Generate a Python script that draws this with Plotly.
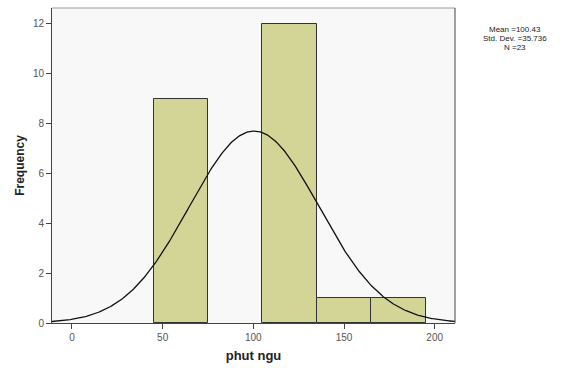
import numpy as np
import plotly.graph_objects as go

bin_starts = [45, 75, 105, 135, 165]
bin_width = 30
counts = [9, 0, 12, 1, 1]
mean_val = 100.43
std_dev = 35.736
n_obs = 23
x_ticks = [0, 50, 100, 150, 200]
y_ticks = [0, 2, 4, 6, 8, 10, 12]

centers = [s + bin_width / 2 for s in bin_starts]
xr = [-11.0, 211.2]
yr = [0, 12.64]

xs = np.linspace(xr[0], xr[1], 400)
ys = n_obs * bin_width * np.exp(-0.5 * ((xs - mean_val) / std_dev) ** 2) / (std_dev * np.sqrt(2 * np.pi))

fig = go.Figure()
fig.add_trace(go.Bar(
    x=[c for c, k in zip(centers, counts) if k > 0],
    y=[k for k in counts if k > 0],
    width=bin_width,
    marker=dict(color="#D3D596", line=dict(color="#333333", width=1)),
    hoverinfo="skip",
))
fig.add_trace(go.Scatter(x=xs, y=ys, mode="lines",
                         line=dict(color="#111111", width=1.3), hoverinfo="skip"))

fig.update_layout(
    width=575, height=368,
    margin=dict(l=52, r=120, t=8, b=43),
    paper_bgcolor="white",
    plot_bgcolor="#F8F8F8",
    showlegend=False,
    bargap=0,
    font=dict(family="Liberation Sans, Arial, sans-serif", color="#555555", size=10),
    xaxis=dict(range=xr, tickvals=x_ticks, ticks="outside", ticklen=5, tickcolor="#444444",
               showgrid=False, zeroline=False, showline=True, linecolor="#444444", linewidth=1,
               title=dict(text="<b>phut ngu</b>", font=dict(size=13, color="#222222"), standoff=8)),
    yaxis=dict(range=yr, tickvals=y_ticks, ticks="outside", ticklen=5, tickcolor="#444444",
               showgrid=False, zeroline=False, showline=True, linecolor="#444444", linewidth=1,
               title=dict(text="<b>Frequency</b>", font=dict(size=12, color="#222222"), standoff=5)),
)

# top and right frame lines
fig.add_shape(type="line", xref="paper", yref="paper", x0=0, x1=1, y0=1, y1=1,
              line=dict(color="#999999", width=1))
fig.add_shape(type="line", xref="paper", yref="paper", x0=1, x1=1, y0=0, y1=1,
              line=dict(color="#444444", width=1))

stats_lines = [f"Mean ={mean_val}", f"Std. Dev. ={std_dev}", f"N ={n_obs}"]
stats_y_px = [30, 39, 48]
for t, py in zip(stats_lines, stats_y_px):
    fig.add_annotation(text=t, xref="paper", yref="paper", x=(515 - 52) / 403, y=(325 - py) / 317,
                       showarrow=False, xanchor="center", yanchor="middle", borderpad=0,
                       font=dict(size=8, color="#222222"))

fig.write_html("out.html")
